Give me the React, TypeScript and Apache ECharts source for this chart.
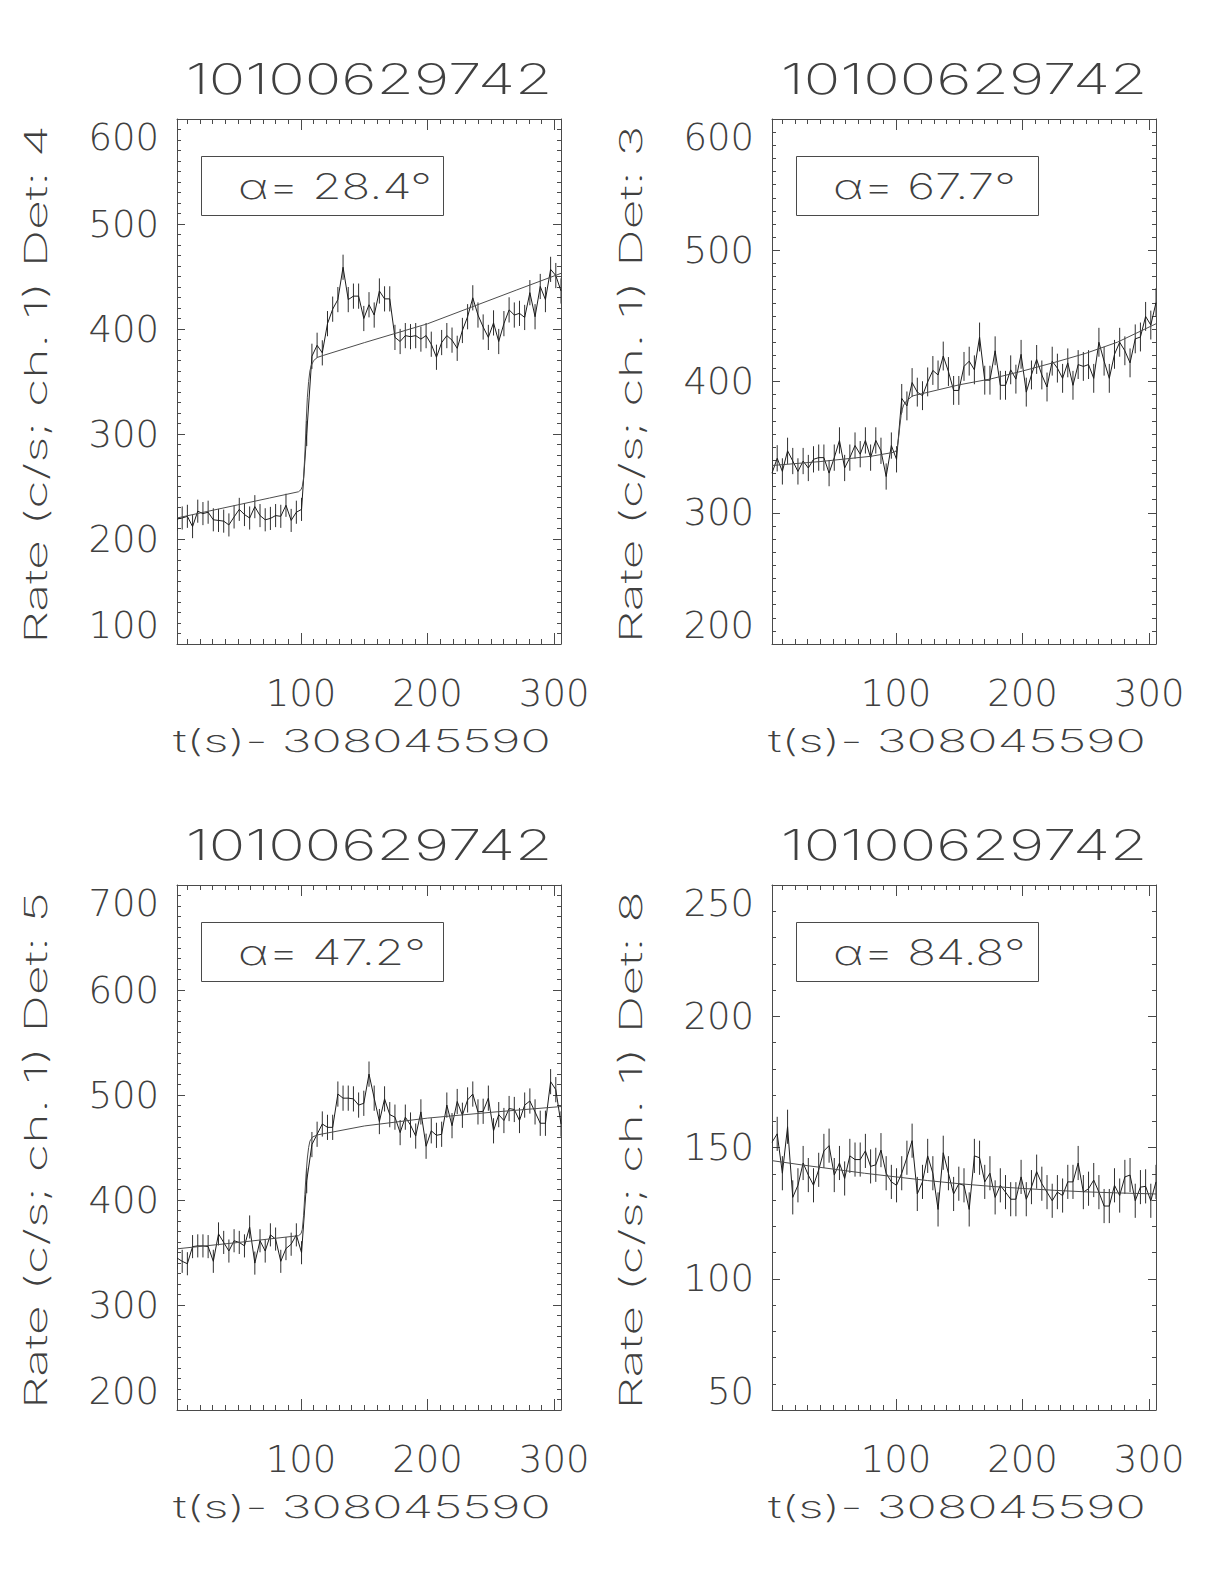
import React, { useEffect, useRef } from 'react';
import * as echarts from 'echarts';

// ---------------- data ----------------
const OBS_ID = '10100629742';
const X_AXIS_NAME = 't(s)- 308045590';
const DETECTORS = [4, 3, 5, 8];
const ALPHA_DEG = ['28.4', '67.7', '47.2', '84.8'];

const X_RANGE = [2, 305.4];
const X_MAJOR_TICKS = [100, 200, 300];

const Y_MIN = [100, 200, 200, 50];
const Y_MAX = [600, 600, 700, 250];
const Y_STEP = [100, 100, 100, 50];
const Y_MINOR_SPLIT = [10, 10, 10, 5];

const TIMES = [
  2, 6.1, 10.2, 14.3, 18.4, 22.5, 26.6, 30.7, 34.8, 38.9,
  43, 47.1, 51.2, 55.3, 59.4, 63.5, 67.6, 71.7, 75.8, 79.9,
  84, 88.1, 92.2, 96.3, 100.4, 104.5, 108.6, 112.7, 116.8, 120.9,
  125, 129.1, 133.2, 137.3, 141.4, 145.5, 149.6, 153.7, 157.8, 161.9,
  166, 170.1, 174.2, 178.3, 182.4, 186.5, 190.6, 194.7, 198.8, 202.9,
  207, 211.1, 215.2, 219.3, 223.4, 227.5, 231.6, 235.7, 239.8, 243.9,
  248, 252.1, 256.2, 260.3, 264.4, 268.5, 272.6, 276.7, 280.8, 284.9,
  289, 293.1, 297.2, 301.3, 305.4,
];

const RATE_DET4 = [
  219.0, 220.0, 221.6, 211.8, 226.5, 224.2, 225.5, 218.3, 217.7, 217.0,
  213.4, 221.0, 228.2, 223.3, 220.0, 230.8, 222.3, 218.3, 219.6, 222.3,
  221.6, 232.1, 217.7, 225.5, 228.2, 300.5, 374.0, 384.5, 377.3, 405.1,
  418.9, 428.0, 458.8, 428.0, 431.3, 431.3, 410.0, 423.1, 413.3, 436.2,
  428.7, 428.7, 392.0, 388.1, 393.7, 392.7, 393.7, 390.4, 393.7, 385.5,
  373.1, 387.1, 393.7, 389.4, 381.6, 398.6, 411.7, 429.7, 413.3, 401.9,
  392.0, 405.8, 388.1, 405.1, 418.2, 413.3, 414.9, 411.0, 434.6, 411.7,
  440.5, 428.0, 456.8, 450.9, 436.2,
];
const ERR_DET4 = [
  11, 11, 11, 11, 11, 11, 11, 11, 11, 11,
  11, 11, 11, 11, 11, 11, 11, 11, 11, 11,
  11, 11, 11, 11, 11, 12, 12, 12, 12, 12,
  12, 12, 12, 12, 12, 12, 12, 12, 12, 12,
  12, 12, 12, 12, 12, 12, 12, 12, 12, 12,
  12, 12, 12, 12, 12, 12, 12, 12, 12, 12,
  12, 12, 12, 12, 12, 12, 12, 12, 12, 12,
  12, 12, 12, 12, 12,
];
const FIT_T_DET4 = [2, 25, 50, 75, 98, 100, 101, 102, 103, 104, 105, 106, 107, 108, 110, 113, 118, 150, 175, 200, 235, 270, 305.4];
const FIT_DET4 = [220, 226, 232.5, 239, 245, 247, 250, 258, 280, 310, 335, 350, 360, 365, 370, 373, 375, 387, 396, 405, 421, 437, 453];

const RATE_DET3 = [
  330.2, 341.5, 331.5, 347.2, 339.4, 331.5, 339.4, 334.1, 340.7, 342.0,
  342.0, 330.2, 342.0, 355.1, 334.1, 342.0, 351.2, 344.6, 355.1, 342.0,
  355.1, 347.2, 327.6, 351.2, 340.7, 387.1, 381.4, 399.2, 391.9, 389.2,
  399.7, 408.4, 405.0, 419.4, 407.6, 393.2, 393.2, 411.5, 415.5, 408.9,
  433.9, 401.0, 401.0, 423.4, 397.1, 397.1, 408.9, 401.8, 420.7, 391.9,
  405.0, 416.8, 405.0, 395.8, 415.5, 410.2, 402.4, 414.2, 397.1, 412.9,
  411.5, 412.9, 402.4, 429.9, 415.5, 402.4, 420.7, 429.9, 423.4, 414.2,
  432.5, 433.9, 449.6, 443.0, 460.1,
];
const ERR_DET3 = [
  10, 10, 10, 10, 10, 10, 10, 10, 10, 10,
  10, 10, 10, 10, 10, 10, 10, 10, 10, 10,
  10, 10, 10, 10, 10, 11, 11, 11, 11, 11,
  11, 11, 11, 11, 11, 11, 11, 11, 11, 11,
  11, 11, 11, 11, 11, 11, 11, 11, 11, 11,
  11, 11, 11, 11, 11, 11, 11, 11, 11, 11,
  11, 11, 11, 11, 11, 11, 11, 11, 11, 11,
  11, 11, 11, 11, 11,
];
const FIT_T_DET3 = [2, 40, 80, 98, 100, 101, 102, 103, 104, 105, 106, 108, 113, 150, 175, 200, 225, 250, 275, 305.4];
const FIT_DET3 = [336, 339, 343, 346, 347, 350, 357, 366, 374, 379, 382, 385, 389, 397.5, 402, 408, 414.5, 421.5, 430, 444];

const RATE_DET5 = [
  344.8, 341.6, 339.3, 355.6, 356.3, 356.3, 355.6, 341.6, 367.7, 359.6,
  351.4, 361.2, 359.6, 356.3, 374.3, 339.9, 361.2, 351.4, 366.8, 362.8,
  341.6, 353.7, 357.9, 366.8, 349.8, 418.4, 452.8, 462.6, 472.4, 469.2,
  469.2, 500.9, 497.0, 497.0, 496.3, 490.4, 492.1, 519.9, 497.0, 474.7,
  496.3, 481.3, 478.9, 464.2, 478.9, 471.4, 460.9, 483.9, 451.2, 465.9,
  461.6, 462.6, 490.4, 470.8, 493.8, 480.7, 495.3, 500.9, 483.9, 484.5,
  497.0, 465.9, 481.3, 475.7, 487.1, 486.2, 475.7, 490.4, 494.3, 483.9,
  473.1, 473.1, 512.7, 505.1, 472.4,
];
const ERR_DET5 = [
  11, 11, 11, 11, 11, 11, 11, 11, 11, 11,
  11, 11, 11, 11, 11, 11, 11, 11, 11, 11,
  11, 11, 11, 11, 11, 12, 12, 12, 12, 12,
  12, 12, 12, 12, 12, 12, 12, 12, 12, 12,
  12, 12, 12, 12, 12, 12, 12, 12, 12, 12,
  12, 12, 12, 12, 12, 12, 12, 12, 12, 12,
  12, 12, 12, 12, 12, 12, 12, 12, 12, 12,
  12, 12, 12, 12, 12,
];
const FIT_T_DET5 = [2, 50, 98, 100, 101, 102, 103, 104, 105, 106, 107, 109, 113, 150, 200, 250, 305.4];
const FIT_DET5 = [353.5, 359.5, 366, 368, 372, 385, 405, 425, 440, 450, 456, 460, 462, 470.5, 478, 483.5, 489];

const RATE_DET8 = [
  152.0, 155.2, 140.2, 157.9, 131.0, 135.6, 144.1, 139.5, 135.6, 141.5,
  148.7, 150.7, 139.5, 144.1, 138.2, 146.8, 145.4, 145.4, 148.7, 142.8,
  143.4, 149.0, 140.2, 136.9, 135.6, 140.2, 146.1, 152.6, 132.3, 136.9,
  146.8, 140.2, 126.4, 148.0, 140.2, 132.3, 136.2, 135.6, 126.4, 146.8,
  146.1, 136.9, 140.2, 131.0, 135.6, 133.0, 130.3, 130.3, 138.8, 130.3,
  134.9, 140.8, 136.2, 133.0, 129.7, 133.0, 131.7, 136.9, 136.9, 144.1,
  133.0, 134.3, 137.6, 133.0, 127.7, 127.7, 135.6, 131.7, 138.8, 139.5,
  129.7, 134.9, 135.2, 129.7, 136.9,
];
const ERR_DET8 = [
  6.5, 6.5, 6.5, 6.5, 6.5, 6.5, 6.5, 6.5, 6.5, 6.5,
  6.5, 6.5, 6.5, 6.5, 6.5, 6.5, 6.5, 6.5, 6.5, 6.5,
  6.5, 6.5, 6.5, 6.5, 6.5, 6.5, 6.5, 6.5, 6.5, 6.5,
  6.5, 6.5, 6.5, 6.5, 6.5, 6.5, 6.5, 6.5, 6.5, 6.5,
  6.5, 6.5, 6.5, 6.5, 6.5, 6.5, 6.5, 6.5, 6.5, 6.5,
  6.5, 6.5, 6.5, 6.5, 6.5, 6.5, 6.5, 6.5, 6.5, 6.5,
  6.5, 6.5, 6.5, 6.5, 6.5, 6.5, 6.5, 6.5, 6.5, 6.5,
  6.5, 6.5, 6.5, 6.5, 6.5,
];
const FIT_T_DET8 = [2, 25, 50, 75, 100, 125, 150, 175, 200, 225, 250, 275, 305.4];
const FIT_DET8 = [145, 143.4, 141.8, 140.2, 138.8, 137.4, 136.2, 135.2, 134.4, 133.7, 133.1, 132.7, 132.3];

const RATES = [RATE_DET4, RATE_DET3, RATE_DET5, RATE_DET8];
const ERRS = [ERR_DET4, ERR_DET3, ERR_DET5, ERR_DET8];
const FIT_TS = [FIT_T_DET4, FIT_T_DET3, FIT_T_DET5, FIT_T_DET8];
const FITS = [FIT_DET4, FIT_DET3, FIT_DET5, FIT_DET8];

// ---------------- layout & style ----------------
const PAGE_W = 1224;
const PAGE_H = 1584;
const PLOT_W = 384;
const PLOT_H = 525;
const PANEL_POS = [
  { left: 177, top: 119 },
  { left: 772, top: 119 },
  { left: 177, top: 885 },
  { left: 772, top: 885 },
];
const AXIS_COLOR = '#4a4a4a';
const TEXT_COLOR = '#404040';
const DATA_COLOR = '#1c1c1c';
const FIT_COLOR = '#4d4d4d';
const ERR_COLOR = '#2e2e2e';
const FONT_TEXT = 'Inter, "Open Sans", Roboto, sans-serif';
const WEIGHT_TEXT = 200;
const FONT_LABEL = '"DejaVu Sans", sans-serif';
const WEIGHT_LABEL = 200;

const X_MINOR_TICKS: number[] = [];
for (let v = 10; v <= 300; v += 10) if (v % 100 !== 0) X_MINOR_TICKS.push(v);

function errRender(params: any, api: any) {
  const t = api.value(0);
  const v = api.value(1);
  const e = api.value(2);
  const p1 = api.coord([t, v - e]);
  const p2 = api.coord([t, v + e]);
  return {
    type: 'line',
    shape: { x1: p1[0], y1: p1[1], x2: p2[0], y2: p2[1] },
    style: { stroke: ERR_COLOR, lineWidth: 1 },
  };
}

function textEl(text: string, x: number, y: number, size: number, scaleX: number, align: string, rotation = 0) {
  return {
    type: 'text',
    x,
    y,
    rotation,
    scaleX,
    silent: true,
    style: {
      text,
      fontSize: size,
      fontFamily: FONT_TEXT,
      fontWeight: WEIGHT_TEXT,
      fill: TEXT_COLOR,
      align,
      verticalAlign: 'middle',
      textAlign: align,
      textVerticalAlign: 'middle',
    },
  };
}

function buildOption() {
  const grid: any[] = [];
  const xAxis: any[] = [];
  const yAxis: any[] = [];
  const series: any[] = [];
  const graphic: any[] = [];
  const lineStyle = { color: AXIS_COLOR, width: 1 };
  const labelStyle = {
    fontSize: 37,
    fontFamily: FONT_LABEL,
    fontWeight: WEIGHT_LABEL,
    color: TEXT_COLOR,
  };

  PANEL_POS.forEach((pos, i) => {
    grid.push({
      left: pos.left,
      top: pos.top,
      width: PLOT_W,
      height: PLOT_H,
      containLabel: false,
      outerBoundsMode: 'none',
      show: false,
    });

    const xCommon = {
      type: 'value',
      gridIndex: i,
      min: X_RANGE[0],
      max: X_RANGE[1],
      splitLine: { show: false },
      minorSplitLine: { show: false },
    };
    const axisLine = { show: true, onZero: false, lineStyle };
    const xMajor = { show: true, inside: true, length: 11, customValues: X_MAJOR_TICKS, lineStyle };
    const xMinor = { show: true, inside: true, length: 5, customValues: X_MINOR_TICKS, lineStyle };
    xAxis.push({
      ...xCommon,
      position: 'bottom',
      axisLine,
      axisTick: xMajor,
      axisLabel: { show: true, customValues: X_MAJOR_TICKS, margin: 31, ...labelStyle },
    });
    xAxis.push({ ...xCommon, position: 'bottom', axisLine: { show: false }, axisTick: xMinor, axisLabel: { show: false } });
    xAxis.push({ ...xCommon, position: 'top', axisLine, axisTick: xMajor, axisLabel: { show: false } });
    xAxis.push({ ...xCommon, position: 'top', axisLine: { show: false }, axisTick: xMinor, axisLabel: { show: false } });

    const yCommon = {
      type: 'value',
      gridIndex: i,
      min: Y_MIN[i],
      max: Y_MAX[i],
      interval: Y_STEP[i],
      splitLine: { show: false },
      minorSplitLine: { show: false },
      axisLine,
      axisTick: { show: true, inside: true, length: 8, lineStyle },
      minorTick: { show: true, splitNumber: Y_MINOR_SPLIT[i], length: 4, lineStyle },
    };
    yAxis.push({
      ...yCommon,
      position: 'left',
      axisLabel: {
        show: true,
        margin: 18,
        verticalAlignMinLabel: 'bottom',
        verticalAlignMaxLabel: 'top',
        ...labelStyle,
      },
    });
    yAxis.push({ ...yCommon, position: 'right', axisLabel: { show: false } });

    const rate = RATES[i];
    const err = ERRS[i];
    series.push({
      type: 'custom',
      xAxisIndex: 4 * i,
      yAxisIndex: 2 * i,
      renderItem: errRender,
      data: TIMES.map((t, k) => [t, rate[k], err[k]]),
      encode: { x: 0, y: 1 },
      clip: true,
      silent: true,
      z: 2,
    });
    series.push({
      type: 'line',
      xAxisIndex: 4 * i,
      yAxisIndex: 2 * i,
      data: TIMES.map((t, k) => [t, rate[k]]),
      symbol: 'none',
      showSymbol: false,
      lineStyle: { color: DATA_COLOR, width: 1 },
      silent: true,
      z: 3,
    });
    series.push({
      type: 'line',
      xAxisIndex: 4 * i,
      yAxisIndex: 2 * i,
      data: FIT_TS[i].map((t, k) => [t, FITS[i][k]]),
      symbol: 'none',
      showSymbol: false,
      lineStyle: { color: FIT_COLOR, width: 1 },
      silent: true,
      z: 4,
    });

    // texts
    graphic.push(textEl(OBS_ID, pos.left + PLOT_W / 2, pos.top - 40, 42, 1.44, 'center'));
    graphic.push(textEl(X_AXIS_NAME, pos.left + PLOT_W / 2 - 7, pos.top + PLOT_H + 97, 31, 1.62, 'center'));
    graphic.push(
      textEl('Rate (c/s; ch. 1) Det: ' + DETECTORS[i], pos.left - 142, pos.top + PLOT_H / 2 + 3, 31, 1.68, 'center', Math.PI / 2)
    );
    graphic.push({
      type: 'rect',
      silent: true,
      shape: { x: pos.left + 24.5, y: pos.top + 37.5, width: 242, height: 59 },
      style: { fill: 'none', stroke: AXIS_COLOR, lineWidth: 1 },
    });
    graphic.push(textEl('\u03B1= ' + ALPHA_DEG[i] + '\u00B0', pos.left + 61, pos.top + 67, 35, 1.36, 'left'));
  });

  return {
    animation: false,
    backgroundColor: '#ffffff',
    grid,
    xAxis,
    yAxis,
    series,
    graphic,
  };
}

export default function App() {
  const ref = useRef<HTMLDivElement>(null);
  useEffect(() => {
    const chart = echarts.init(ref.current as HTMLDivElement, null, {
      renderer: 'svg',
      width: PAGE_W,
      height: PAGE_H,
    });
    chart.setOption(buildOption() as any);
    return () => chart.dispose();
  }, []);
  return (
    <div
      ref={ref}
      style={{ position: 'absolute', left: 0, top: 0, width: PAGE_W, height: PAGE_H, background: '#fff' }}
    />
  );
}
